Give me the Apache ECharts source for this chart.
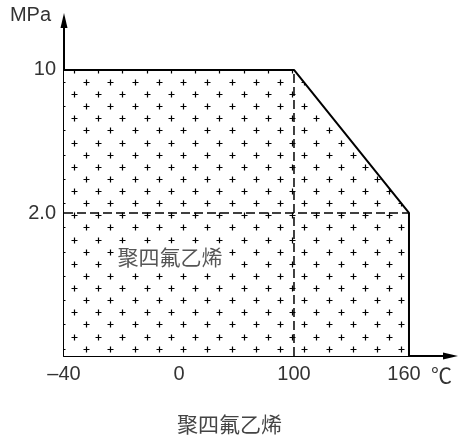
<!DOCTYPE html>
<html>
<head>
<meta charset="utf-8">
<script src="https://cdn.jsdelivr.net/npm/echarts@6/dist/echarts.min.js"></script>
<style>html,body{margin:0;padding:0;background:#fff;}#c{width:459px;height:438px;}</style>
</head>
<body>
<div id="c"></div>
<script>
// Tick labels (schematic axes: ticks evenly spaced)
const xTickLabels = ['\u201340', '0', '100', '160'];
const yTickLabels = ['', '2.0', '10'];
// Operating envelope, in tick-index units
const envelopeX = [0, 2, 3, 3];
const envelopeY = [2, 2, 1, 0];
// Reference (dashed) lines
const dashedYLevel = 1;   // 2.0 MPa
const dashedXLevel = 2;   // 100 ℃
const materialName = '聚四氟乙烯';

const latin = '"Liberation Sans", Arial, sans-serif';
const cjk = '"Noto Sans CJK SC", sans-serif';

// "+" pattern tile
function makePattern() {
  const S = 97;
  const cv = document.createElement('canvas');
  cv.width = S; cv.height = S;
  const g = cv.getContext('2d');
  g.fillStyle = '#fff'; g.fillRect(0, 0, S, S);
  g.strokeStyle = '#000'; g.lineWidth = 1.2;
  const dx = 24.25, dy = 12.16;
  for (let j = 0; j < 8; j++) {
    for (let i = 0; i < 4; i++) {
      let x = 86 - (j % 2) * 12.125 + dx * i;
      let y = 81.7 + dy * j;
      x = ((x % S) + S) % S; y = ((y % S) + S) % S;
      for (const ox of [-S, 0, S]) for (const oy of [-S, 0, S]) {
        const cx = Math.round(x + ox) + 0.5, cy = Math.round(y + oy) + 0.5;
        g.beginPath();
        g.moveTo(cx - 3, cy); g.lineTo(cx + 3, cy);
        g.moveTo(cx, cy - 3); g.lineTo(cx, cy + 3);
        g.stroke();
      }
    }
  }
  return cv;
}

const chart = echarts.init(document.getElementById('c'), null, {renderer: 'canvas'});
const envelope = envelopeX.map((x, i) => [x, envelopeY[i]]);
const hLine = [[0, dashedYLevel], [envelopeX[envelopeX.length - 1], dashedYLevel]];
const vLine = [[dashedXLevel, 0], [dashedXLevel, envelopeY[0]]];
const lastX = xTickLabels.length - 1;

chart.setOption({
  animation: false,
  backgroundColor: '#fff',
  title: {
    text: materialName, left: 'center', top: 409,
    textStyle: {fontFamily: cjk, fontSize: 21, fontWeight: 'normal', color: '#444'}
  },
  grid: {left: 64, top: 20.5, width: 386.5, height: 335.5, containLabel: false},
  xAxis: {
    type: 'value', min: 0, max: 3.361,
    axisLine: {show: true, lineStyle: {color: '#000', width: 2}, symbol: ['none', 'triangle'], symbolSize: [7, 15]},
    axisTick: {show: true, inside: true, length: 8, customValues: [1], lineStyle: {color: '#000', width: 2}},
    axisLabel: {
      customValues: [0, 1, 2, 3], margin: 8,
      formatter: v => {
        const i = Math.round(v);
        return i === lastX ? '{r|' + xTickLabels[i] + '}' : xTickLabels[i];
      },
      rich: {r: {fontFamily: latin, fontSize: 20, color: '#333', padding: [0, 10, 0, 0]}},
      fontFamily: latin, fontSize: 20, color: '#333'
    },
    splitLine: {show: false}
  },
  yAxis: {
    type: 'value', min: 0, max: 2.346,
    axisLine: {show: true, lineStyle: {color: '#000', width: 2}, symbol: ['none', 'triangle'], symbolSize: [7, 15]},
    axisTick: {show: false},
    axisLabel: {
      customValues: [1, 2], margin: 8,
      formatter: v => yTickLabels[Math.round(v)],
      fontFamily: latin, fontSize: 20, color: '#333'
    },
    splitLine: {show: false}
  },
  series: [
    {
      type: 'line', data: envelope, symbol: 'none', clip: false, z: 2,
      lineStyle: {color: '#000', width: 2},
      areaStyle: {color: {image: makePattern(), repeat: 'repeat'}, opacity: 1, origin: 'start'}
    },
    {
      type: 'line', data: hLine, symbol: 'none', z: 3,
      lineStyle: {color: '#000', width: 1.5, type: [9, 4]}
    },
    {
      type: 'line', data: vLine, symbol: 'none', z: 3,
      lineStyle: {color: '#000', width: 1.5, type: [9, 4]}
    }
  ],
  graphic: [
    {type: 'text', z: 10, style: {text: 'MPa', x: 51, y: 15, align: 'right', verticalAlign: 'middle', font: '20px ' + latin, fill: '#333'}},
    {type: 'text', z: 10, style: {text: '℃', x: 431, y: 375, align: 'left', verticalAlign: 'middle', font: '21px ' + cjk, fill: '#333'}},
    {type: 'text', z: 10, style: {text: materialName, x: 170, y: 257, align: 'center', verticalAlign: 'middle', font: '21px ' + cjk, fill: '#555', backgroundColor: '#fff', padding: [3, 2]}}
  ]
});
</script>
</body>
</html>
